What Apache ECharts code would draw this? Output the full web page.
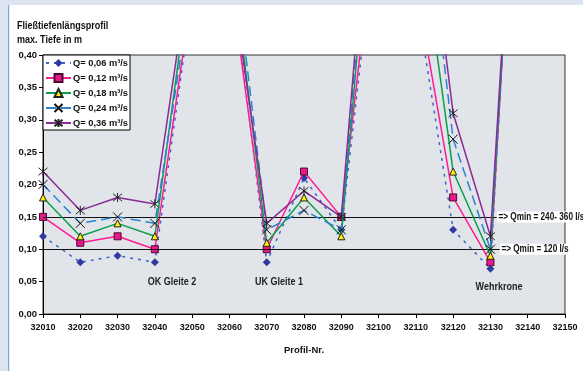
<!DOCTYPE html>
<html>
<head>
<meta charset="utf-8">
<script src="https://cdn.jsdelivr.net/npm/echarts@6/dist/echarts.min.js"></script>
<style>
  html, body { margin: 0; padding: 0; background: #fff; }
  #chart { width: 583px; height: 371px; }
</style>
</head>
<body>
<div id="chart"></div>
<script>
// Profile stations (Profil-Nr.)
const profiles = [32010, 32020, 32030, 32040, 32050, 32060, 32070, 32080, 32090, 32100, 32110, 32120, 32130, 32140];

// Maximum flow depth in m per discharge
const depthQ006 = [0.12, 0.08, 0.09, 0.08, 0.49, 0.56, 0.08, 0.21, 0.13, 0.63, 0.49, 0.13, 0.07, 1.10];
const depthQ012 = [0.15, 0.11, 0.12, 0.10, 0.50, 0.53, 0.10, 0.22, 0.15, 0.65, 0.51, 0.18, 0.08, 1.08];
const depthQ018 = [0.18, 0.12, 0.14, 0.12, 0.55, 0.58, 0.11, 0.18, 0.12, 0.78, 0.64, 0.22, 0.09, 1.07];
const depthQ024 = [0.20, 0.14, 0.15, 0.14, 0.51, 0.61, 0.13, 0.16, 0.13, 0.82, 0.76, 0.27, 0.10, 1.06];
const depthQ036 = [0.22, 0.16, 0.18, 0.17, 0.56, 0.54, 0.14, 0.19, 0.15, 0.84, 0.77, 0.31, 0.12, 1.06];

const seriesNames = ['Q= 0,06 m³/s', 'Q= 0,12 m³/s', 'Q= 0,18 m³/s', 'Q= 0,24 m³/s', 'Q= 0,36 m³/s'];

// Threshold depths and their notes
const thresholdDepths = [0.15, 0.10];
const thresholdNotes = ['=> Qmin = 240- 360 l/s', '=> Qmin = 120 l/s'];
const thresholdStations = [32131.7, 32132.5];

// Structure notes: station, depth, text
const structureNotes = [
  [32044.6, 0.050, 'OK Gleite 2'],
  [32073.3, 0.050, 'UK Gleite 1'],
  [32132.3, 0.041, 'Wehrkrone']
];

const FONT = "'Liberation Sans', Arial, sans-serif";
const NARROW = 0.82; // horizontal squeeze giving a narrow face

function pairs(values) {
  return profiles.map((p, i) => [p, values[i]]);
}

const crossPath = 'path://M0,0L10,10M10,0L0,10';
const starPath = 'path://M0,0L10,10M10,0L0,10M5,-1L5,11';

const chart = echarts.init(document.getElementById('chart'), null, { renderer: 'canvas' });

const frameGraphics = [
  { type: 'rect', shape: { x: 0, y: 0, width: 583, height: 5 }, style: { fill: '#dde5f2' }, silent: true },
  { type: 'rect', shape: { x: 0, y: 0, width: 8, height: 371 }, style: { fill: '#dde5f2' }, silent: true },
  { type: 'rect', shape: { x: 8, y: 5, width: 1.2, height: 366 }, style: { fill: '#7fa3dc' }, silent: true },
  {
    type: 'text', x: 17, y: 26, scaleX: NARROW, silent: true,
    style: { text: 'Fließtiefenlängsprofil', font: 'bold 11px ' + FONT, fill: '#111', textVerticalAlign: 'middle' }
  },
  {
    type: 'text', x: 17, y: 40, scaleX: NARROW, silent: true,
    style: { text: 'max. Tiefe in m', font: 'bold 11px ' + FONT, fill: '#111', textVerticalAlign: 'middle' }
  }
];

const option = {
  animation: false,
  backgroundColor: '#ffffff',
  textStyle: { fontFamily: FONT },
  graphic: frameGraphics,
  legend: {
    orient: 'vertical',
    left: 43,
    top: 55,
    data: seriesNames,
    backgroundColor: '#ffffff',
    borderColor: '#000',
    borderWidth: 1,
    borderRadius: 0,
    padding: [3, 2, 2, 2],
    itemWidth: 25,
    itemHeight: 10,
    itemGap: 5,
    textStyle: { fontFamily: FONT, fontSize: 9.3, fontWeight: 'bold', color: '#111', lineHeight: 10, padding: [0, 0, 0, -3] }
  },
  grid: {
    left: 43,
    right: 18,
    top: 55,
    bottom: 57,
    show: true,
    backgroundColor: '#e1e4e9',
    borderColor: '#333',
    borderWidth: 1
  },
  xAxis: {
    type: 'value',
    min: 32010,
    max: 32150,
    interval: 10,
    name: 'Profil-Nr.',
    nameLocation: 'middle',
    nameGap: 31,
    nameTextStyle: { fontFamily: FONT, fontSize: 9.5, fontWeight: 'bold', color: '#111' },
    axisLine: { lineStyle: { color: '#000', width: 1 } },
    axisTick: { length: 4, lineStyle: { color: '#000' } },
    axisLabel: {
      fontFamily: FONT, fontSize: 9, fontWeight: 'bold', color: '#111', margin: 9,
      formatter: v => String(v)
    },
    splitLine: { show: false }
  },
  yAxis: {
    type: 'value',
    min: 0,
    max: 0.4,
    interval: 0.05,
    axisLine: { show: true, lineStyle: { color: '#000', width: 1 } },
    axisTick: { show: true, length: 4, lineStyle: { color: '#000' } },
    axisLabel: {
      fontFamily: FONT, fontSize: 9.5, fontWeight: 'bold', color: '#111', margin: 6,
      formatter: v => v.toFixed(2).replace('.', ',')
    },
    splitLine: { show: false }
  },
  series: [
    {
      name: seriesNames[0], type: 'line', data: pairs(depthQ006), z: 3,
      symbol: 'diamond', symbolSize: 8,
      itemStyle: { color: '#2f3a9e' },
      lineStyle: { color: '#3c64cc', width: 1.5, type: [3, 5] },
      markLine: {
        silent: true,
        symbol: 'none',
        label: { show: false },
        lineStyle: { color: '#111', width: 1, type: 'solid' },
        data: thresholdDepths.map(d => ({ yAxis: d }))
      }
    },
    {
      name: seriesNames[1], type: 'line', data: pairs(depthQ012), z: 4,
      symbol: 'rect', symbolSize: 7,
      itemStyle: { color: '#e8188c', borderColor: '#4a0a30', borderWidth: 1 },
      lineStyle: { color: '#ff1c93', width: 1.5 }
    },
    {
      name: seriesNames[2], type: 'line', data: pairs(depthQ018), z: 5,
      symbol: 'triangle', symbolSize: 7,
      itemStyle: { color: '#fff200', borderColor: '#222', borderWidth: 1 },
      lineStyle: { color: '#08a04b', width: 1.5 }
    },
    {
      name: seriesNames[3], type: 'line', data: pairs(depthQ024), z: 6,
      symbol: crossPath, symbolSize: 9,
      itemStyle: { color: 'rgba(0,0,0,0)', borderColor: '#111', borderWidth: 1 },
      lineStyle: { color: '#2a82d0', width: 1.5, type: [10, 5] }
    },
    {
      name: seriesNames[4], type: 'line', data: pairs(depthQ036), z: 7,
      symbol: starPath, symbolSize: 9,
      itemStyle: { color: 'rgba(0,0,0,0)', borderColor: '#222', borderWidth: 1 },
      lineStyle: { color: '#8a2a96', width: 1.5 }
    }
  ]
};

chart.setOption(option);

// Notes placed at data coordinates, squeezed horizontally
const noteGraphics = [];
thresholdDepths.forEach((d, i) => {
  const p = chart.convertToPixel({ gridIndex: 0 }, [thresholdStations[i], d]);
  noteGraphics.push({
    type: 'text', x: p[0], y: p[1], scaleX: NARROW, z: 100, silent: true,
    style: {
      text: thresholdNotes[i], font: 'bold 10px ' + FONT, fill: '#111',
      textVerticalAlign: 'middle', backgroundColor: '#ffffff', padding: [1, 2, 0, 2]
    }
  });
});
structureNotes.forEach(n => {
  const p = chart.convertToPixel({ gridIndex: 0 }, [n[0], n[1]]);
  noteGraphics.push({
    type: 'text', x: p[0], y: p[1], scaleX: NARROW, z: 100, silent: true,
    style: {
      text: n[2], font: 'bold 11px ' + FONT, fill: '#222',
      textAlign: 'center', textVerticalAlign: 'middle'
    }
  });
});
chart.setOption({ graphic: frameGraphics.concat(noteGraphics) });
</script>
</body>
</html>
